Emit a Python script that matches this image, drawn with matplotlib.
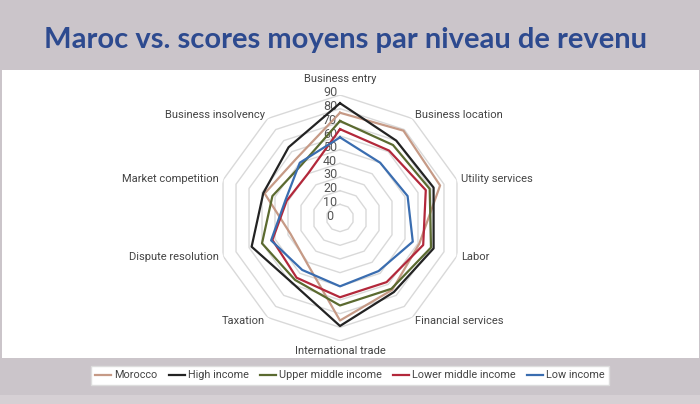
import numpy as np
import matplotlib
matplotlib.use("Agg")
import matplotlib.pyplot as plt
from matplotlib.patches import Rectangle
from matplotlib.transforms import offset_copy

# ---- data ----
categories = ["Business entry", "Business location", "Utility services", "Labor",
              "Financial services", "International trade", "Taxation",
              "Dispute resolution", "Market competition", "Business insolvency"]
morocco      = [77, 79, 77, 61, 65, 75, 41, 38, 58, 54]
high_income  = [84, 70, 72, 72, 67, 79, 59, 68, 59, 64]
upper_middle = [71, 66, 69, 70, 64, 64, 56, 60, 52, 48]
lower_middle = [65, 61, 66, 64, 58, 58, 54, 52, 41, 40]
low_income   = [59, 50, 52, 56, 48, 50, 47, 53, 42, 50]
series_names = ["Morocco", "High income", "Upper middle income",
                "Lower middle income", "Low income"]
radial_ticks = [0, 10, 20, 30, 40, 50, 60, 70, 80, 90]
title = "Maroc vs. scores moyens par niveau de revenu"

series = [morocco, high_income, upper_middle, lower_middle, low_income]
colors = ["#c69a86", "#232323", "#5b6a30", "#b3283b", "#3a6db0"]

narrow = ["Roboto", "DejaVu Sans"]

W, H = 700, 404
fig = plt.figure(figsize=(W / 100, H / 100), dpi=100, facecolor="#cbc5ca")

# white panel and bottom strip
fig.patches.append(Rectangle((2 / W, 1 - 358 / H), 697 / W, 288 / H,
                             transform=fig.transFigure, facecolor="white",
                             edgecolor="none", zorder=-5))
fig.patches.append(Rectangle((0, 0), 1, 9 / H, transform=fig.transFigure,
                             facecolor="#d6d0d4", edgecolor="none", zorder=-5))

fig.text(345 / W, 1 - 40 / H, title, ha="center", va="center",
         fontsize=21, fontweight="bold", color="#2d4a8f", family=["Lato", "DejaVu Sans"])

# polar axes: center (340,218), radius 123 px for 90
cx, cy, R = 340, 218, 123
ax = fig.add_axes([(cx - R) / W, 1 - (cy + R) / H, 2 * R / W, 2 * R / H],
                  projection="polar")
ax.set_zorder(1)
ax.set_facecolor("none")
ax.set_theta_zero_location("N")
ax.set_theta_direction(-1)
ax.set_ylim(0, 90)
ax.grid(False)
ax.spines["polar"].set_visible(False)
ax.set_xticks([])
ax.set_yticks([])

n = len(categories)
angles = np.linspace(0, 2 * np.pi, n, endpoint=False)
ang_closed = np.append(angles, angles[0])

for r in radial_ticks[1:]:
    ax.plot(ang_closed, [r] * (n + 1), color="#d9d9d9", lw=1.0, zorder=1)

tr = offset_copy(ax.transData, fig=fig, x=-10, y=2, units="dots")
for r in radial_ticks:
    ax.text(0, r, str(r), transform=tr, ha="center", va="center",
            fontsize=9, color="#555555", family=narrow, zorder=2)

for vals, c, name in zip(series, colors, series_names):
    v = list(vals) + [vals[0]]
    ax.plot(ang_closed, v, color=c, lw=1.6, label=name, zorder=3)

# category labels
for i, (a, lab) in enumerate(zip(angles, categories)):
    if i == 0:
        ax.text(a, 102, lab, ha="center", va="center", fontsize=8,
                color="#444444", family=narrow)
    elif i == 5:
        ax.text(a, 97, lab, ha="center", va="center", fontsize=8,
                color="#444444", family=narrow)
    else:
        ha = "left" if i < 5 else "right"
        ax.text(a, 93, lab, ha=ha, va="center", fontsize=8,
                color="#444444", family=narrow)

handles, labels = ax.get_legend_handles_labels()
leg = fig.legend(handles, labels, loc="center", ncol=5,
                 bbox_to_anchor=(350 / W, 1 - 375.5 / H),
                 frameon=True, fancybox=False, edgecolor="#dddddd",
                 facecolor="white", framealpha=1,
                 prop={"family": narrow, "size": 7.8},
                 handlelength=1.5, handletextpad=0.3, columnspacing=1.0,
                 borderpad=0.4)
for t in leg.get_texts():
    t.set_color("#444444")

fig.savefig("out.png", dpi=100, facecolor=fig.get_facecolor())
